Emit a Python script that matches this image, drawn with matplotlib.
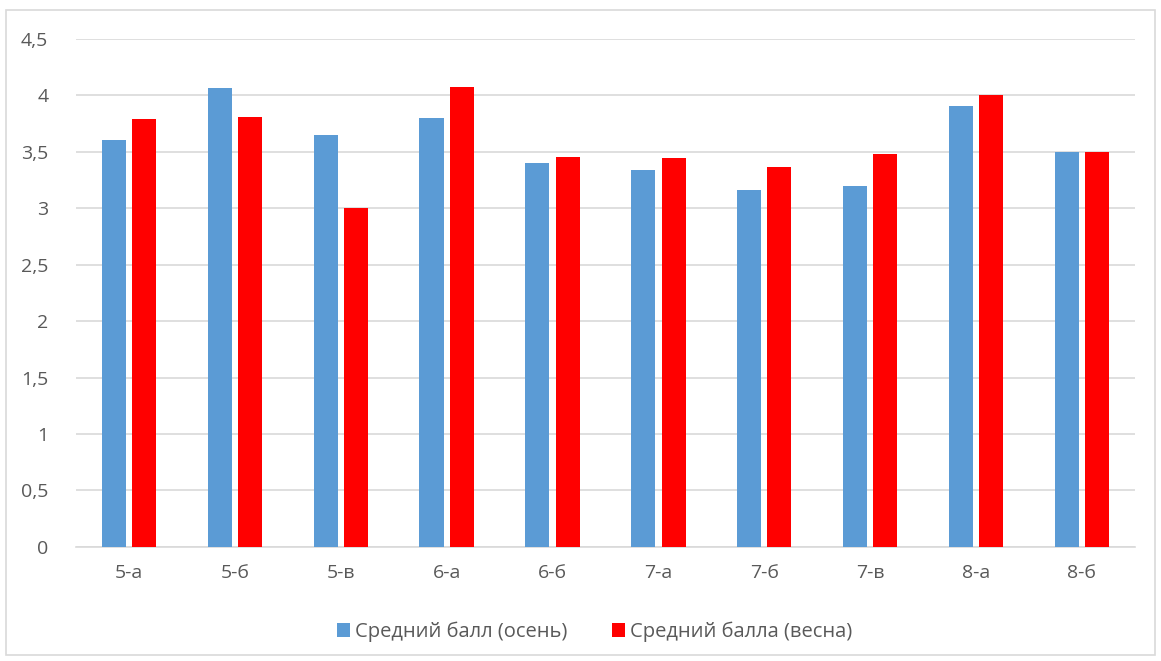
import matplotlib.pyplot as plt
import numpy as np
from matplotlib.patches import Rectangle
from matplotlib.ticker import FuncFormatter

plt.rcParams['font.family'] = ['Open Sans', 'DejaVu Sans']

classes = ["5-а", "5-б", "5-в", "6-а", "6-б", "7-а", "7-б", "7-в", "8-а", "8-б"]
autumn = [3.6, 4.06, 3.65, 3.8, 3.4, 3.34, 3.16, 3.2, 3.9, 3.5]
spring = [3.79, 3.81, 3.0, 4.07, 3.45, 3.44, 3.36, 3.48, 4.0, 3.5]

text_color = "#595959"

fig = plt.figure(figsize=(11.61, 6.61), dpi=100)
ax = fig.add_axes([0.0655, 0.1725, 0.912, 0.769])

x = np.arange(len(classes))
w = 0.227
ax.bar(x - 0.143, autumn, width=w, color="#5b9bd5", label="Средний балл (осень)", zorder=3)
ax.bar(x + 0.143, spring, width=w, color="#ff0000", label="Средний балла (весна)", zorder=3)

ax.set_xlim(-0.5, len(classes) - 0.5)
ax.set_ylim(0, 4.5)
ax.set_yticks(np.arange(0, 4.51, 0.5))
ax.yaxis.set_major_formatter(FuncFormatter(lambda v, p: f"{v:g}".replace(".", ",")))
ax.set_xticks(x)
ax.set_xticklabels(classes)

ax.grid(axis="y", color="#d9d9d9", linewidth=1.2, zorder=0)
for s in ["top", "right", "left"]:
    ax.spines[s].set_visible(False)
ax.spines["bottom"].set_color("#d9d9d9")
ax.spines["bottom"].set_linewidth(1.2)
ax.tick_params(length=0, colors=text_color, labelsize=14)
ax.tick_params(axis="x", pad=12)
ax.tick_params(axis="y", pad=20)

fig.legend(loc="center", bbox_to_anchor=(0.512, 0.044), ncol=2, frameon=False,
           fontsize=14.5, labelcolor=text_color, handlelength=0.65, handleheight=0.65,
           handletextpad=0.25, columnspacing=2.2)

fig.patches.append(Rectangle((6 / 1161, 6 / 661), 1 - 12 / 1161, 1 - 16 / 661,
                             transform=fig.transFigure, fill=False,
                             edgecolor="#d9d9d9", linewidth=1.2))

fig.savefig("out.png", dpi=100)
